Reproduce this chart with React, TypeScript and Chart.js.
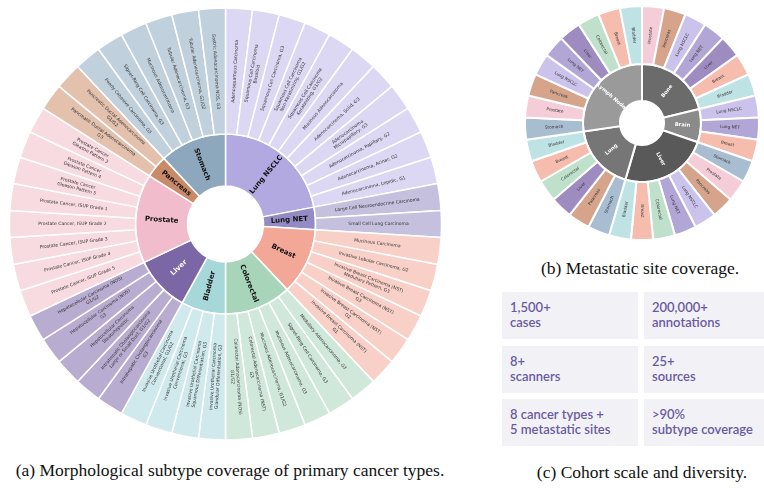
import React, { useEffect, useRef } from "react";
import { Chart, registerables } from "chart.js";

Chart.register(...registerables);

// ---- (a) primary cancer types and their morphological subtypes ----
const PRIMARY_TYPES = ["Lung NSCLC", "Lung NET", "Breast", "Colorectal", "Bladder", "Liver", "Prostate", "Pancreas", "Stomach"];
const PRIMARY_COLORS = ["#b2a9e1", "#958bc4", "#f3a797", "#a8d5b9", "#a6d7d9", "#7c67a6", "#f1bccb", "#c98a68", "#8da7bd"];
const PRIMARY_TEXT_COLORS = ["#111", "#111", "#111", "#111", "#111", "#ffffff", "#111", "#111", "#111"];
const SUBTYPE_COLORS = ["#dcd7f3", "#c5c0de", "#f9d0c7", "#d0e8d9", "#cfe9ec", "#b8acd1", "#f8dae1", "#e3c1ad", "#c0d0dd"];

const LUNG_NSCLC = [
  "Adenosquamous Carcinoma",
  "Squamous Cell Carcinoma\nBasaloid",
  "Squamous Cell Carcinoma, G3",
  "Squamous Cell Carcinoma\nNon-Keratinizing, G1/G2",
  "Squamous Cell Carcinoma\nKeratinizing, G1/G2",
  "Mucinous Adenocarcinoma",
  "Adenocarcinoma, Solid, G3",
  "Adenocarcinoma\nMicropapillary, G3",
  "Adenocarcinoma, Papillary, G2",
  "Adenocarcinoma, Acinar, G2",
  "Adenocarcinoma, Lepidic, G1",
];
const LUNG_NET = ["Large Cell Neuroendocrine Carcinoma", "Small Cell Lung Carcinoma"];
const BREAST = [
  "Mucinous Carcinoma",
  "Invasive Lobular Carcinoma, G2",
  "Invasive Breast Carcinoma (NST)\nMedullary Pattern, G3",
  "Invasive Breast Carcinoma (NST)\nG3",
  "Invasive Breast Carcinoma (NST)\nG2",
  "Invasive Breast Carcinoma (NST)\nG1",
];
const COLORECTAL = [
  "Medullary Adenocarcinoma, G3",
  "Signet-Ring Cell Carcinoma, G3",
  "Mucinous Adenocarcinoma, G3",
  "Mucinous Adenocarcinoma, G1/G2",
  "Colorectal Adenocarcinoma (NST)\nG3",
  "Colorectal Adenocarcinoma (NOS)\nG1/G2",
];
const BLADDER = [
  "Invasive Urothelial Carcinoma\nGlandular Differentiation, G3",
  "Invasive Urothelial Carcinoma\nSquamous Differentiation, G3",
  "Invasive Urothelial Carcinoma\nConventional, G3",
  "Invasive Urothelial Carcinoma\nConventional, G1/G2",
];
const LIVER = [
  "Intrahepatic Cholangiocarcinoma\nG3",
  "Intrahepatic Cholangiocarcinoma\nLarge or Small Duct, G1/G2",
  "Hepatocellular Carcinoma\nSteatohepatitic",
  "Hepatocellular Carcinoma (NOS)\nG3",
  "Hepatocellular Carcinoma (NOS)\nG1/G2",
];
const PROSTATE = [
  "Prostate Cancer, ISUP Grade 5",
  "Prostate Cancer, ISUP Grade 4",
  "Prostate Cancer, ISUP Grade 3",
  "Prostate Cancer, ISUP Grade 2",
  "Prostate Cancer, ISUP Grade 1",
  "Prostate Cancer\nGleason Pattern 5",
  "Prostate Cancer\nGleason Pattern 4",
  "Prostate Cancer\nGleason Pattern 3",
];
const PANCREAS = ["Pancreatic Ductal Adenocarcinoma\nG3", "Pancreatic Ductal Adenocarcinoma\nG1/G2"];
const STOMACH = [
  "Poorly Cohesive Carcinoma, G3",
  "Signet-Ring Cell Carcinoma, G3",
  "Mucinous Adenocarcinoma",
  "Tubular Adenocarcinoma, G3",
  "Tubular Adenocarcinoma, G1/G2",
  "Gastric Adenocarcinoma NOS, G3",
];
const SUBTYPE_GROUPS = [LUNG_NSCLC, LUNG_NET, BREAST, COLORECTAL, BLADDER, LIVER, PROSTATE, PANCREAS, STOMACH];
// every subtype occupies one equal share of the ring
const SUBTYPE_SHARE = 1;

// ---- (b) metastatic sites and the primary tumours seen at each ----
const SITES = ["Bone", "Brain", "Liver", "Lung", "Lymph Node"];
const SITE_COLORS = ["#6b6b6b", "#8b8b8b", "#595959", "#767676", "#9a9a9a"];
const BONE_SOURCES = ["Prostate", "Pancreas", "Lung NSCLC", "Lung NET", "Liver", "Breast", "Bladder"];
const BRAIN_SOURCES = ["Lung NSCLC", "Lung NET", "Breast"];
const LIVER_SOURCES = ["Stomach", "Prostate", "Pancreas", "Lung NSCLC", "Lung NET", "Colorectal", "Breast", "Bladder"];
const LUNG_SOURCES = ["Stomach", "Pancreas", "Liver", "Colorectal", "Breast", "Bladder"];
const LYMPH_NODE_SOURCES = ["Stomach", "Prostate", "Pancreas", "Lung NSCLC", "Lung NET", "Liver", "Colorectal", "Breast", "Bladder"];
const SITE_SOURCES = [BONE_SOURCES, BRAIN_SOURCES, LIVER_SOURCES, LUNG_SOURCES, LYMPH_NODE_SOURCES];
const SOURCE_SHARE = 1;
const SOURCE_COLORS: Record<string, string> = {
  Prostate: "#f4cdd8",
  Pancreas: "#d5a48b",
  "Lung NSCLC": "#cbc3ec",
  "Lung NET": "#b1a6d6",
  Liver: "#9e8cc0",
  Breast: "#f6bcae",
  Bladder: "#bfe3e5",
  Stomach: "#a9bdd1",
  Colorectal: "#bfe1cc",
};

// ---- (c) cohort statistics ----
const STAT_VALUES = ["1,500+", "200,000+", "8+", "25+", "8 cancer types +", ">90%"];
const STAT_NAMES = ["cases", "annotations", "scanners", "sources", "5 metastatic sites", "subtype coverage"];

type RingText = { texts: string[]; font: string; color: string | string[]; lineHeight: number };

// Writes each arc's label along its radius, flipped on the left half so it stays readable.
function ringLabels(id: string, rings: Record<number, RingText>) {
  return {
    id,
    afterDatasetsDraw(chart: any) {
      const ctx: CanvasRenderingContext2D = chart.ctx;
      Object.keys(rings).forEach((key) => {
        const cfg = rings[Number(key)];
        const meta = chart.getDatasetMeta(Number(key));
        meta.data.forEach((arc: any, i: number) => {
          const p = arc.getProps(["x", "y", "startAngle", "endAngle", "innerRadius", "outerRadius"], true);
          const mid = (p.startAngle + p.endAngle) / 2;
          const r = (p.innerRadius + p.outerRadius) / 2;
          const cx = p.x + r * Math.cos(mid);
          const cy = p.y + r * Math.sin(mid);
          let rot = mid;
          if (Math.cos(mid) < -1e-6) rot += Math.PI;
          ctx.save();
          ctx.translate(cx, cy);
          ctx.rotate(rot);
          ctx.font = cfg.font;
          ctx.fillStyle = Array.isArray(cfg.color) ? cfg.color[i] : cfg.color;
          ctx.textAlign = "center";
          ctx.textBaseline = "middle";
          const lines = cfg.texts[i].split("\n");
          lines.forEach((ln, j) => ctx.fillText(ln, 0, (j - (lines.length - 1) / 2) * cfg.lineHeight));
          ctx.restore();
        });
      });
    },
  };
}

const baseOptions = {
  responsive: false,
  animation: false as const,
  devicePixelRatio: 1,
  events: [] as any[],
  layout: { padding: 0 },
  plugins: { legend: { display: false }, tooltip: { enabled: false } },
};

function PrimarySunburst() {
  const ref = useRef<HTMLCanvasElement | null>(null);
  useEffect(() => {
    const subtypeLabels = SUBTYPE_GROUPS.flat();
    const subtypeValues = subtypeLabels.map(() => SUBTYPE_SHARE);
    const subtypeColors = SUBTYPE_GROUPS.flatMap((g, gi) => g.map(() => SUBTYPE_COLORS[gi]));
    const typeValues = SUBTYPE_GROUPS.map((g) => g.length * SUBTYPE_SHARE);
    const chart = new Chart(ref.current as HTMLCanvasElement, {
      type: "doughnut",
      data: {
        labels: subtypeLabels,
        datasets: [
          { data: subtypeValues, backgroundColor: subtypeColors, borderColor: "#ffffff", borderWidth: 1.5, weight: 126 } as any,
          { data: typeValues, backgroundColor: PRIMARY_COLORS, borderColor: "#ffffff", borderWidth: 1.5, weight: 52 } as any,
        ],
      },
      options: { ...baseOptions, radius: 216, cutout: "17.6%" } as any,
      plugins: [
        ringLabels("primaryLabels", {
          0: { texts: subtypeLabels, font: "4.5px 'DejaVu Sans'", color: "#333333", lineHeight: 5.4 },
          1: { texts: PRIMARY_TYPES, font: "bold 7px 'DejaVu Sans'", color: PRIMARY_TEXT_COLORS, lineHeight: 8 },
        }),
      ],
    });
    return () => chart.destroy();
  }, []);
  return <canvas ref={ref} width={451} height={448} style={{ position: "absolute", left: 0, top: 0 }} />;
}

function MetastaticSunburst() {
  const ref = useRef<HTMLCanvasElement | null>(null);
  useEffect(() => {
    const sourceLabels = SITE_SOURCES.flat();
    const sourceValues = sourceLabels.map(() => SOURCE_SHARE);
    const sourceColors = sourceLabels.map((s) => SOURCE_COLORS[s]);
    const siteValues = SITE_SOURCES.map((s) => s.length * SOURCE_SHARE);
    const chart = new Chart(ref.current as HTMLCanvasElement, {
      type: "doughnut",
      data: {
        labels: sourceLabels,
        datasets: [
          { data: sourceValues, backgroundColor: sourceColors, borderColor: "#ffffff", borderWidth: 2, weight: 58 } as any,
          { data: siteValues, backgroundColor: SITE_COLORS, borderColor: "#ffffff", borderWidth: 2, weight: 37 } as any,
        ],
      },
      options: { ...baseOptions, radius: 117, cutout: "18.8%" } as any,
      plugins: [
        ringLabels("siteLabels", {
          0: { texts: sourceLabels, font: "4.2px 'DejaVu Sans'", color: "#333333", lineHeight: 5 },
          1: { texts: SITES, font: "bold 5.2px 'DejaVu Sans'", color: "#ffffff", lineHeight: 6 },
        }),
      ],
    });
    return () => chart.destroy();
  }, []);
  return <canvas ref={ref} width={240} height={240} style={{ position: "absolute", left: 522, top: 3 }} />;
}

const captionStyle: React.CSSProperties = {
  position: "absolute",
  fontFamily: "'Liberation Serif', 'Times New Roman', serif",
  fontSize: 17.5,
  lineHeight: "20px",
  color: "#111",
  textAlign: "center",
  whiteSpace: "nowrap",
};

const BOX_X = [502, 644];
const BOX_Y = [292, 346, 399];

function StatBoxes() {
  return (
    <>
      {STAT_VALUES.map((v, i) => {
        const col = i % 2;
        const row = Math.floor(i / 2);
        return (
          <div
            key={i}
            style={{
              position: "absolute",
              left: BOX_X[col],
              top: BOX_Y[row],
              width: col === 0 ? 136 : 120,
              height: 47,
              background: "#f2f2f6",
              fontFamily: "Lato, 'Open Sans', sans-serif",
              fontWeight: 600,
              fontSize: 13,
              color: "#6a5aa3",
            }}
          >
            <div style={{ position: "absolute", left: 8, top: 9, lineHeight: "13px", whiteSpace: "nowrap" }}>{v}</div>
            <div style={{ position: "absolute", left: 8, top: 24, lineHeight: "13px", whiteSpace: "nowrap" }}>{STAT_NAMES[i]}</div>
          </div>
        );
      })}
    </>
  );
}

export default function App() {
  return (
    <div style={{ position: "absolute", left: 0, top: 0, width: 764, height: 490, background: "#ffffff", overflow: "hidden" }}>
      <PrimarySunburst />
      <MetastaticSunburst />
      <StatBoxes />
      <div style={{ ...captionStyle, left: 0, width: 460, top: 460 }}>
        (a) Morphological subtype coverage of primary cancer types.
      </div>
      <div style={{ ...captionStyle, left: 518, width: 244, top: 258 }}>(b) Metastatic site coverage.</div>
      <div style={{ ...captionStyle, left: 510, width: 264, top: 462 }}>(c) Cohort scale and diversity.</div>
    </div>
  );
}
